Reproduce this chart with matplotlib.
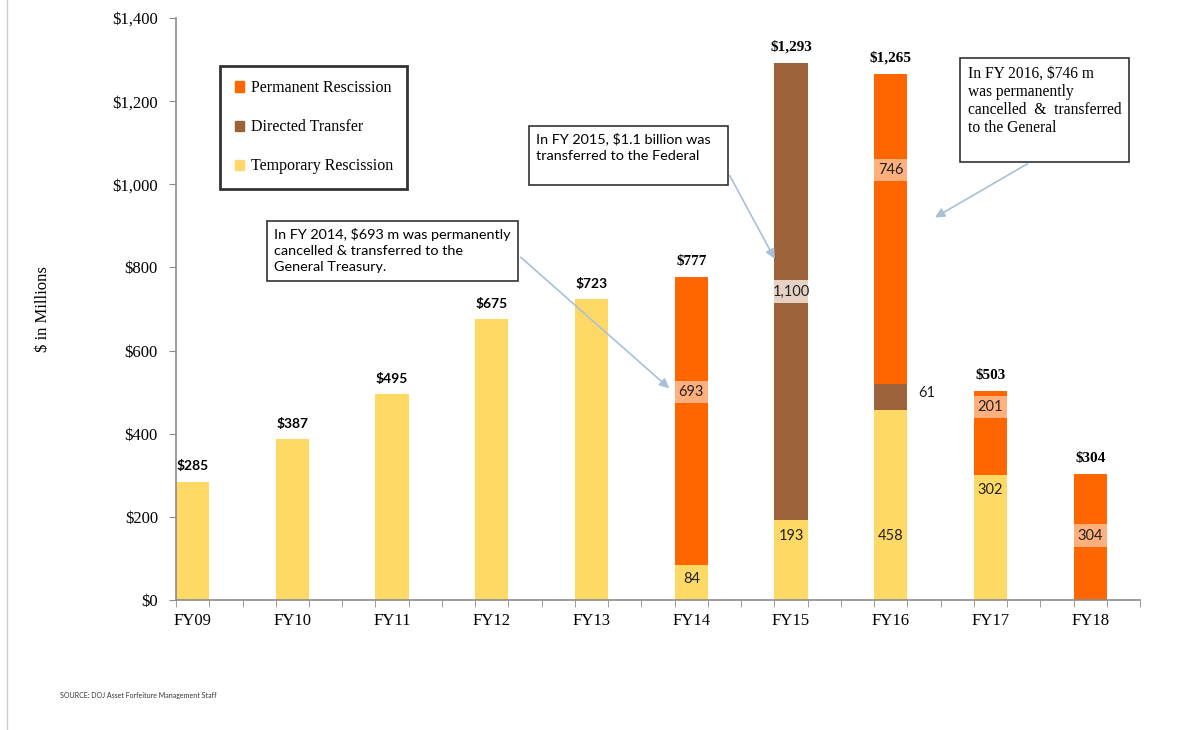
import matplotlib.pyplot as plt
import numpy as np
from matplotlib.lines import Line2D
from matplotlib.patches import Patch

years = ['FY09', 'FY10', 'FY11', 'FY12', 'FY13', 'FY14', 'FY15', 'FY16', 'FY17', 'FY18']
temporary = [285, 387, 495, 675, 723, 84, 193, 458, 302, 0]
directed = [0, 0, 0, 0, 0, 0, 1100, 61, 0, 0]
permanent = [0, 0, 0, 0, 0, 693, 0, 746, 201, 304]
totals = [285, 387, 495, 675, 723, 777, 1293, 1265, 503, 304]

# segment labels: (year index, text, y value for label, series)
seg_labels = [
    (5, '84', 50, 'temp'), (5, '693', 500, 'perm'),
    (6, '193', 154, 'temp'), (6, '1,100', 741, 'dir'),
    (7, '458', 154, 'temp'), (7, '746', 1034, 'perm'),
    (8, '302', 265, 'temp'), (8, '201', 464, 'perm'),
    (9, '304', 154, 'perm'),
]

c_perm = '#FF6600'
c_dir = '#9C623A'
c_temp = '#FFD966'
box_col = {'temp': None, 'perm': '#FFB07C', 'dir': '#E6D2C4'}

serif = 'Liberation Serif'
sans = 'Lato'

fig = plt.figure(figsize=(11.95, 7.3), dpi=100)
ax = fig.add_axes([0.1473, 0.178, 0.954 - 0.1473, 0.9753 - 0.178])

x = np.arange(len(years))
w = 1 / 3
temp = np.array(temporary)
dr = np.array(directed)
pm = np.array(permanent)
ax.bar(x, temp, w, color=c_temp, zorder=2)
ax.bar(x, dr, w, bottom=temp, color=c_dir, zorder=2)
ax.bar(x, pm, w, bottom=temp + dr, color=c_perm, zorder=2)

ax.set_xlim(-1 / 6, 9.5)
ax.set_ylim(0, 1400)

for spine in ['top', 'right']:
    ax.spines[spine].set_visible(False)
for spine in ['left', 'bottom']:
    ax.spines[spine].set_color('#8C8C8C')
    ax.spines[spine].set_linewidth(1.2)
    ax.spines[spine].set_zorder(3)

ax.set_yticks(range(0, 1401, 200))
ax.set_yticklabels(['$0'] + ['${:,}'.format(v) for v in range(200, 1401, 200)],
                   fontfamily=serif, fontsize=12)
ax.set_xticks(x)
ax.set_xticklabels(years, fontfamily=serif, fontsize=12)
ax.set_xticks(np.arange(-1 / 6, 9.6, 1 / 3), minor=True)
ax.tick_params(axis='x', which='major', length=0, pad=9)
ax.tick_params(axis='x', which='minor', length=5, color='#8C8C8C', direction='out')
ax.tick_params(axis='y', length=5, color='#8C8C8C', pad=8)
ax.set_ylabel('$ in Millions', fontfamily=serif, fontsize=12, labelpad=44)

# totals
for i, t in enumerate(totals):
    fam = sans if i < 5 else serif
    ax.text(x[i], t + 22, '${:,}'.format(t), ha='center', va='bottom',
            fontfamily=fam, fontweight='bold', fontsize=10 if i < 5 else 11)

# segment labels
for i, txt, yv, s in seg_labels:
    if box_col[s]:
        ax.bar(x[i], 55, w, bottom=yv - 27, color=box_col[s], zorder=3)
    ax.text(x[i], yv, txt, ha='center', va='center', fontfamily=sans, fontsize=10.5,
            color='#222222', zorder=4)
ax.text(x[7] + 0.28, 497, '61', ha='left', va='center', fontfamily=sans, fontsize=10.5,
        color='#222222')

# legend
handles = [Patch(color=c_perm), Patch(color=c_dir), Patch(color=c_temp)]
leg = ax.legend(handles, ['Permanent Rescission', 'Directed Transfer', 'Temporary Rescission'],
                loc='upper left', bbox_to_anchor=(0.046, 0.918), frameon=True, fancybox=False,
                prop={'family': serif, 'size': 11.5}, handlelength=0.6, handleheight=0.6,
                handletextpad=0.4, labelspacing=1.45, borderpad=0.9, borderaxespad=0)
leg.get_frame().set_edgecolor('black')
leg.get_frame().set_linewidth(2)

arrow_col = '#A8C0D8'
boxprops = dict(boxstyle='square,pad=0.5', facecolor='white', edgecolor='#333333', linewidth=1.2)

# FY14 annotation
ax.annotate('In FY 2014, $693 m was permanently\ncancelled & transferred to the\nGeneral Treasury.',
            xy=(4.8, 505), xytext=(0.82, 840), textcoords='data', fontfamily=sans, fontsize=10.4,
            ha='left', va='center', bbox=boxprops, linespacing=1.4,
            arrowprops=dict(arrowstyle='-|>', color=arrow_col, lw=1.2, mutation_scale=14,
                            relpos=(1, 0.55)))
# FY15 annotation
ax.annotate('In FY 2015, $1.1 billion was   \ntransferred to the Federal\n',
            xy=(5.85, 815), xytext=(3.44, 1070), textcoords='data', fontfamily=sans, fontsize=10.4,
            ha='left', va='center', bbox=dict(boxprops, boxstyle='square,pad=0.45'),
            linespacing=1.45,
            arrowprops=dict(arrowstyle='-|>', color=arrow_col, lw=1.2, mutation_scale=14,
                            relpos=(1, 0.4)))
# FY16 annotation
ax.annotate('In FY 2016, $746 m\nwas permanently\ncancelled  &  transferred\nto the General\n',
            xy=(7.42, 917), xytext=(7.77, 1179), textcoords='data', fontfamily=serif, fontsize=11.2,
            ha='left', va='center', bbox=boxprops, linespacing=1.17,
            arrowprops=dict(arrowstyle='-|>', color=arrow_col, lw=1.2, mutation_scale=14,
                            relpos=(0.5, 0)))

fig.text(0.05, 0.044, 'SOURCE: DOJ Asset Forfeiture Management Staff', fontfamily=sans,
         fontsize=5, color='#333333')
fig.add_artist(Line2D([0.006, 0.006], [0, 1], color='#CCCCCC', lw=1))

fig.savefig('out.png', dpi=100)
